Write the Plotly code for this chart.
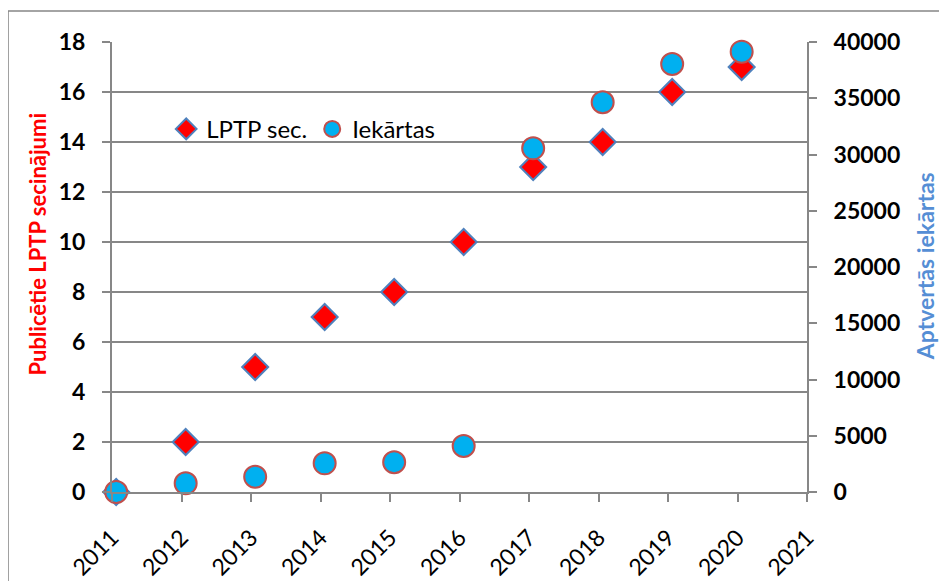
import plotly.graph_objects as go

# Data
x_years = [2011.06, 2012.06, 2013.06, 2014.06, 2015.06, 2016.06, 2017.06, 2018.06, 2019.06, 2020.06]
lptp_sec = [0, 2, 5, 7, 8, 10, 13, 14, 16, 17]
iekartas = [0, 770, 1360, 2550, 2640, 4090, 30550, 34640, 38040, 39140]
x_ticks = list(range(2011, 2022))
y_left_ticks = list(range(0, 19, 2))
y_right_ticks = list(range(0, 40001, 5000))

GRID = "#878787"
FONT = "Lato"

fig = go.Figure()
fig.add_trace(go.Scatter(
    x=x_years, y=lptp_sec, mode="markers", name="LPTP sec.",
    marker=dict(symbol="diamond", size=20, color="#FF0000",
                line=dict(color="#4F81BD", width=2)),
    yaxis="y", cliponaxis=False,
))
fig.add_trace(go.Scatter(
    x=x_years, y=iekartas, mode="markers", name="Iekārtas",
    marker=dict(symbol="circle", size=22, color="#00B0F0",
                line=dict(color="#C0504D", width=2)),
    yaxis="y2", cliponaxis=False,
))

fig.update_layout(
    width=939, height=573,
    margin=dict(l=104, r=140, t=34, b=89, autoexpand=False),
    paper_bgcolor="white", plot_bgcolor="white",
    font=dict(family=FONT, color="black"),
    showlegend=True,
    legend=dict(orientation="h", x=0.078, y=0.806, xanchor="left", yanchor="middle",
                font=dict(family=FONT, size=24, color="black"),
                bgcolor="rgba(0,0,0,0)", itemsizing="trace"),
    xaxis=dict(range=[2011, 2021], tickvals=x_ticks, ticktext=[str(t) for t in x_ticks],
               tickangle=-45, showgrid=False, zeroline=False, automargin=False,
               showline=True, linecolor=GRID, linewidth=2,
               ticks="outside", ticklen=8, tickcolor=GRID, tickwidth=2,
               ticklabelstandoff=13,
               tickfont=dict(family=FONT, size=23, color="black")),
    yaxis=dict(range=[0, 18], tickvals=y_left_ticks, showgrid=True, gridcolor=GRID, gridwidth=2,
               zeroline=False, showline=True, linecolor=GRID, linewidth=2, automargin=False,
               ticks="outside", ticklen=8, tickcolor=GRID, tickwidth=2,
               ticklabelstandoff=12,
               tickfont=dict(family=FONT, size=23, color="black", weight="bold")),
    yaxis2=dict(range=[0, 40000], tickvals=y_right_ticks, tickformat="d",
                overlaying="y", side="right", automargin=False,
                showgrid=False, zeroline=False, showline=True, linecolor=GRID, linewidth=2,
                ticks="outside", ticklen=8, tickcolor=GRID, tickwidth=2,
                ticklabelstandoff=12,
                tickfont=dict(family=FONT, size=23, color="black", weight="bold")),
    annotations=[
        dict(text="Publicētie LPTP secinājumi", xref="paper", yref="paper",
             x=-0.1065, y=0.552, xanchor="center", yanchor="middle",
             textangle=-90, showarrow=False,
             font=dict(family=FONT, size=22, color="#FF0000", weight="bold")),
        dict(text="Aptvertās iekārtas", xref="paper", yref="paper",
             x=1.17, y=0.502, xanchor="center", yanchor="middle",
             textangle=-90, showarrow=False,
             font=dict(family=FONT, size=23, color="#558ED5", weight="bold")),
    ],
    shapes=[
        dict(type="rect", xref="paper", yref="paper", x0=-0.1496, y0=-2, x1=3, y1=1.069,
             line=dict(color=GRID, width=1.5), fillcolor="rgba(0,0,0,0)", layer="below"),
    ],
)

fig.write_html("out.html")
